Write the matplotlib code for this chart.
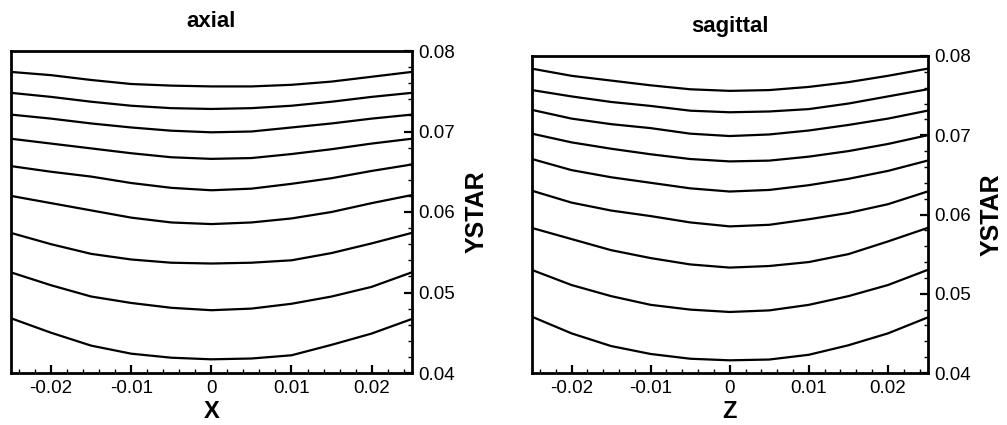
import matplotlib
matplotlib.use("Agg")
import matplotlib.pyplot as plt
from matplotlib.ticker import MultipleLocator, FuncFormatter

plt.rcParams['font.family'] = ['Liberation Sans', 'DejaVu Sans']

# positions along the horizontal coordinate
xpos = [-0.025, -0.02, -0.015, -0.01, -0.005, 0.0, 0.005, 0.01, 0.015, 0.02, 0.025]

# axial panel: YSTAR contour lines vs X
axial_lines = [
    [0.0774, 0.0770, 0.0764, 0.0759, 0.0757, 0.0756, 0.0756, 0.0758, 0.0762, 0.0768, 0.0774],
    [0.0748, 0.0743, 0.0737, 0.0732, 0.0729, 0.0728, 0.0729, 0.0732, 0.0737, 0.0743, 0.0748],
    [0.0721, 0.0716, 0.0710, 0.0705, 0.0701, 0.0699, 0.0700, 0.0705, 0.0710, 0.0716, 0.0721],
    [0.0691, 0.0685, 0.0679, 0.0673, 0.0668, 0.0666, 0.0667, 0.0672, 0.0678, 0.0685, 0.0691],
    [0.0657, 0.0650, 0.0644, 0.0636, 0.0630, 0.0627, 0.0629, 0.0635, 0.0642, 0.0651, 0.0659],
    [0.0620, 0.0611, 0.0602, 0.0593, 0.0587, 0.0585, 0.0587, 0.0592, 0.0600, 0.0611, 0.0621],
    [0.0574, 0.0560, 0.0548, 0.0541, 0.0537, 0.0536, 0.0537, 0.0540, 0.0549, 0.0561, 0.0574],
    [0.0525, 0.0509, 0.0495, 0.0487, 0.0481, 0.0478, 0.0480, 0.0486, 0.0495, 0.0507, 0.0525],
    [0.0468, 0.0450, 0.0434, 0.0424, 0.0419, 0.0417, 0.0418, 0.0422, 0.0435, 0.0449, 0.0467],
]

# sagittal panel: YSTAR contour lines vs Z
sagittal_lines = [
    [0.0784, 0.0775, 0.0769, 0.0763, 0.0758, 0.0756, 0.0757, 0.0761, 0.0767, 0.0775, 0.0784],
    [0.0757, 0.0749, 0.0742, 0.0737, 0.0731, 0.0729, 0.0730, 0.0733, 0.0740, 0.0749, 0.0758],
    [0.0732, 0.0721, 0.0714, 0.0709, 0.0702, 0.0699, 0.0701, 0.0706, 0.0713, 0.0721, 0.0731],
    [0.0702, 0.0691, 0.0683, 0.0676, 0.0670, 0.0667, 0.0668, 0.0673, 0.0680, 0.0689, 0.0700],
    [0.0670, 0.0656, 0.0647, 0.0640, 0.0633, 0.0629, 0.0631, 0.0637, 0.0645, 0.0655, 0.0668],
    [0.0630, 0.0615, 0.0605, 0.0598, 0.0590, 0.0585, 0.0587, 0.0594, 0.0602, 0.0613, 0.0629],
    [0.0583, 0.0569, 0.0555, 0.0545, 0.0537, 0.0533, 0.0535, 0.0540, 0.0550, 0.0566, 0.0583],
    [0.0530, 0.0511, 0.0497, 0.0486, 0.0480, 0.0477, 0.0479, 0.0486, 0.0497, 0.0511, 0.0530],
    [0.0471, 0.0450, 0.0434, 0.0424, 0.0418, 0.0416, 0.0417, 0.0423, 0.0435, 0.0450, 0.0470],
]

titles = ["axial", "sagittal"]
xlabels = ["X", "Z"]
ylabel = "YSTAR"

fig = plt.figure(figsize=(10.07, 4.25), dpi=100)
ax1 = fig.add_axes([11 / 1007, 52 / 425, 400.7 / 1007, 322 / 425])
ax2 = fig.add_axes([532 / 1007, 52 / 425, 395.5 / 1007, 317 / 425])


def fmt_x(v, pos):
    if abs(v) < 1e-12:
        return "0"
    return f"{v:.2f}"


for ax, lines, title, xl in [(ax1, axial_lines, titles[0], xlabels[0]),
                             (ax2, sagittal_lines, titles[1], xlabels[1])]:
    for yv in lines:
        ax.plot(xpos, yv, color='black', lw=1.6, solid_joinstyle='round')
    ax.set_xlim(-0.025, 0.025)
    ax.set_ylim(0.04, 0.08)
    for s in ax.spines.values():
        s.set_linewidth(2.0)
    ax.xaxis.set_major_locator(MultipleLocator(0.01))
    ax.xaxis.set_minor_locator(MultipleLocator(0.002))
    ax.yaxis.set_major_locator(MultipleLocator(0.01))
    ax.yaxis.set_minor_locator(MultipleLocator(0.002))
    ax.xaxis.set_major_formatter(FuncFormatter(fmt_x))
    ax.yaxis.set_major_formatter(FuncFormatter(lambda v, p: f"{v:.2f}"))
    ax.yaxis.tick_right()
    ax.yaxis.set_label_position('right')
    ax.tick_params(axis='both', which='major', direction='in', length=5.5, width=1.6,
                   labelsize=13.5, pad=5)
    ax.tick_params(axis='both', which='minor', direction='in', length=3, width=1.0)
    ax.tick_params(axis='x', which='both', top=False, bottom=True)
    ax.tick_params(axis='y', which='both', left=False, right=True)
    ax.set_title(title, fontsize=16, fontweight='bold', pad=17)
    ax.set_xlabel(xl, fontsize=17, fontweight='bold')
    ax.xaxis.label.set_va('center')
    ax.xaxis.set_label_coords(0.5, -38.7 / (322 if ax is ax1 else 317))
    ax.set_ylabel(ylabel, fontsize=18, fontweight='bold', rotation=90)
    ax.yaxis.label.set_va('center')
    ax.yaxis.label.set_ha('center')
    ax.yaxis.set_label_coords(1.163, 0.5)

fig.savefig("out.png", dpi=100)
